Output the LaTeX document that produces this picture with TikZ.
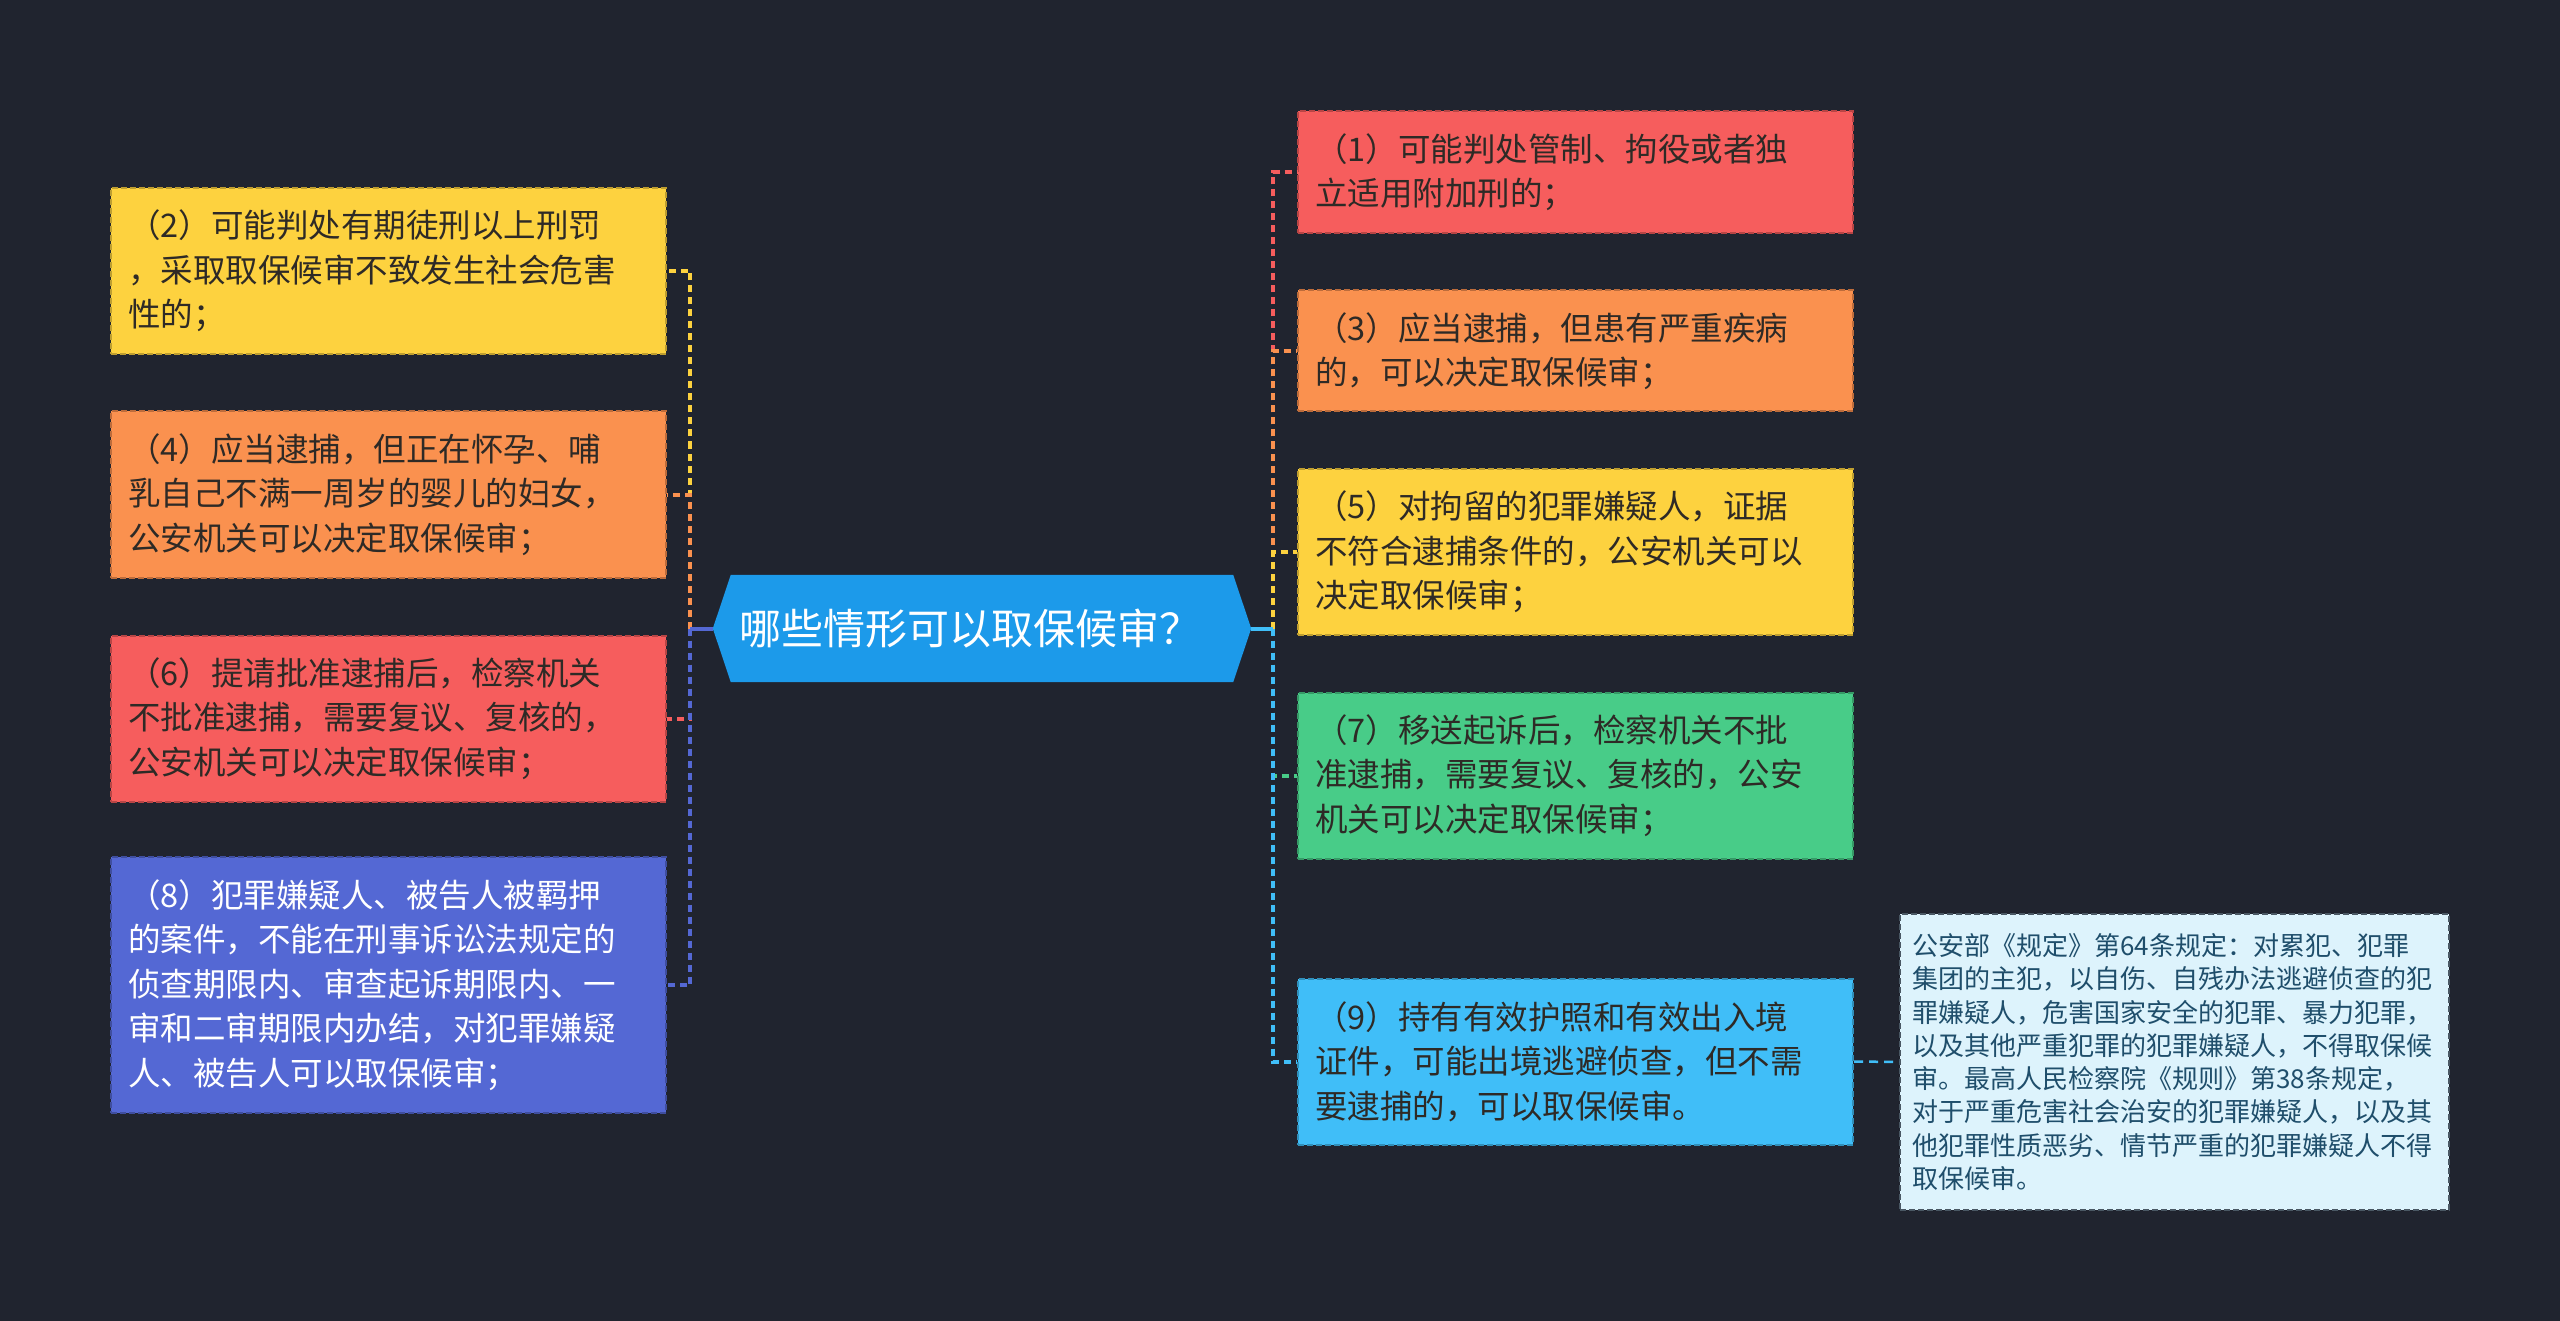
\documentclass[tikz,border=0pt]{standalone}
\usepackage{fontspec}
\newfontfamily\cjk{Noto Sans CJK SC}
\usetikzlibrary{backgrounds}
\definecolor{bg}{HTML}{20242F}
\definecolor{cfill}{HTML}{1C9AEA}
\definecolor{cred}{HTML}{F65D5D}
\definecolor{dred}{HTML}{B84545}
\definecolor{corange}{HTML}{FA914F}
\definecolor{dorange}{HTML}{BD6C3B}
\definecolor{cyellow}{HTML}{FDD23F}
\definecolor{dyellow}{HTML}{BE9E30}
\definecolor{cgreen}{HTML}{48CC88}
\definecolor{dgreen}{HTML}{369966}
\definecolor{ccyan}{HTML}{40BEF8}
\definecolor{dcyan}{HTML}{308FBA}
\definecolor{cpurple}{HTML}{5468D4}
\definecolor{dpurple}{HTML}{3F4E9F}
\definecolor{notefill}{HTML}{DDF3FC}
\definecolor{notedraw}{HTML}{4A5864}
\definecolor{notetext}{HTML}{1F4E6B}
\definecolor{tdark}{HTML}{2E2A26}
\begin{document}
\begin{tikzpicture}[x=1pt,y=-1pt,
  box/.style={inner xsep=17pt, inner ysep=0pt, text width=521pt, align=left,
    font=\cjk\fontsize{32.5}{44.5}\selectfont, line width=2pt, dash pattern=on 6pt off 3pt},
  link/.style={line width=4pt, dash pattern=on 7pt off 5pt},
  stub/.style={line width=4pt}]
\useasboundingbox (0,0) rectangle (2560,1321);

% central node
\node[inner xsep=26pt, inner ysep=0pt, text width=486pt, align=left, minimum height=107pt,
  font=\cjk\fontsize{42}{50}\selectfont, text=white] (c) at (982,628.5) {哪些情形可以取保候审？};
\begin{scope}[on background layer]
\fill[bg] (0,0) rectangle (2560,1321);
\fill[cfill] (c.west) -- ([xshift=18pt]c.north west) -- ([xshift=-18pt]c.north east) -- (c.east)
  -- ([xshift=-18pt]c.south east) -- ([xshift=18pt]c.south west) -- cycle;
\end{scope}

% left boxes
\node[box, fill=cyellow, draw=dyellow, text=tdark, minimum height=166pt] (b2) at (388.5,271)
  {（2）可能判处有期徒刑以上刑罚\\，采取取保候审不致发生社会危害\\性的；};
\node[box, fill=corange, draw=dorange, text=tdark, minimum height=166pt] (b4) at (388.5,494.5)
  {（4）应当逮捕，但正在怀孕、哺\\乳自己不满一周岁的婴儿的妇女，\\公安机关可以决定取保候审；};
\node[box, fill=cred, draw=dred, text=tdark, minimum height=166pt] (b6) at (388.5,718.5)
  {（6）提请批准逮捕后，检察机关\\不批准逮捕，需要复议、复核的，\\公安机关可以决定取保候审；};
\node[box, fill=cpurple, draw=dpurple, text=white, minimum height=256pt] (b8) at (388.5,985)
  {（8）犯罪嫌疑人、被告人被羁押\\的案件，不能在刑事诉讼法规定的\\侦查期限内、审查起诉期限内、一\\审和二审期限内办结，对犯罪嫌疑\\人、被告人可以取保候审；};

% right boxes
\node[box, fill=cred, draw=dred, text=tdark, minimum height=122pt] (b1) at (1575.5,172)
  {（1）可能判处管制、拘役或者独\\立适用附加刑的；};
\node[box, fill=corange, draw=dorange, text=tdark, minimum height=121pt] (b3) at (1575.5,351)
  {（3）应当逮捕，但患有严重疾病\\的，可以决定取保候审；};
\node[box, fill=cyellow, draw=dyellow, text=tdark, minimum height=166pt] (b5) at (1575.5,552)
  {（5）对拘留的犯罪嫌疑人，证据\\不符合逮捕条件的，公安机关可以\\决定取保候审；};
\node[box, fill=cgreen, draw=dgreen, text=tdark, minimum height=166pt] (b7) at (1575.5,775.5)
  {（7）移送起诉后，检察机关不批\\准逮捕，需要复议、复核的，公安\\机关可以决定取保候审；};
\node[box, fill=ccyan, draw=dcyan, text=tdark, minimum height=166pt] (b9) at (1575.5,1061.5)
  {（9）持有有效护照和有效出入境\\证件，可能出境逃避侦查，但不需\\要逮捕的，可以取保候审。};

% note
\node[inner xsep=12.5pt, inner ysep=0pt, text width=524pt, align=left, minimum height=296pt,
  font=\cjk\fontsize{26}{33.3}\selectfont, text=notetext, fill=notefill, draw=notedraw,
  line width=2pt, dash pattern=on 6pt off 3pt] (note) at (2174.5,1062)
  {公安部《规定》第64条规定：对累犯、犯罪\\集团的主犯，以自伤、自残办法逃避侦查的犯\\罪嫌疑人，危害国家安全的犯罪、暴力犯罪，\\以及其他严重犯罪的犯罪嫌疑人，不得取保候\\审。最高人民检察院《规则》第38条规定，\\对于严重危害社会治安的犯罪嫌疑人，以及其\\他犯罪性质恶劣、情节严重的犯罪嫌疑人不得\\取保候审。};

% connectors
\coordinate (L) at (690,628.5);
\coordinate (R) at (1273,628.5);
\draw[link, cyellow] (L) |- (b2.east);
\draw[link, corange] (L) |- (b4.east);
\draw[link, cred] (L) |- (b6.east);
\draw[link, cpurple] (L) |- (b8.east);
\draw[stub, cpurple] (c.west) -- (L);

\draw[link, cred] (R) |- (b1.west);
\draw[link, corange] (R) |- (b3.west);
\draw[link, cyellow] (R) |- (b5.west);
\draw[link, cgreen] (R) |- (b7.west);
\draw[link, ccyan] (R) |- (b9.west);
\draw[stub, ccyan] (c.east) -- (R);

\draw[link, ccyan, line width=2.5pt, dash pattern=on 9pt off 6pt] (b9.east) -- (note.west);
\end{tikzpicture}
\end{document}
